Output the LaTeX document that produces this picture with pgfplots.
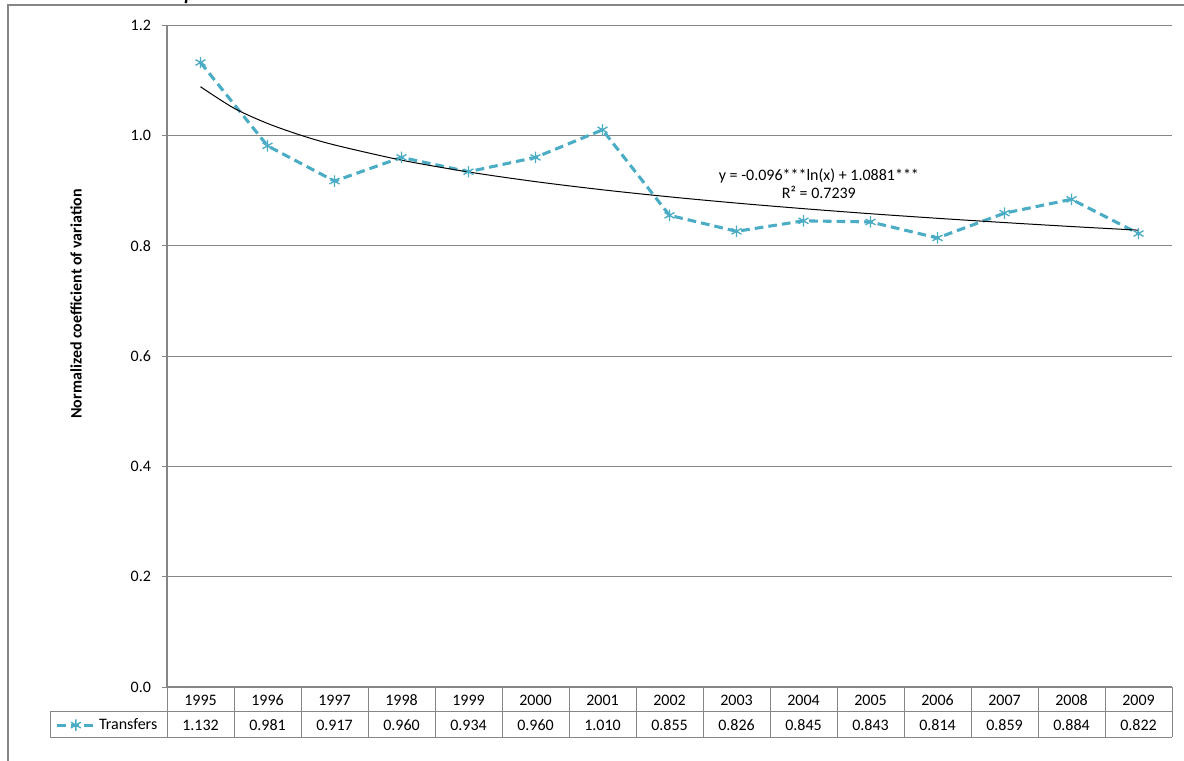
\documentclass[border=0pt]{standalone}
\usepackage{fontspec}
\setmainfont{Carlito}
\usepackage{pgfplots}
\pgfplotsset{compat=1.18}
\definecolor{aqua}{HTML}{4BACC6}
\definecolor{xlgray}{HTML}{868686}
\begin{document}
\begin{tikzpicture}
\begin{scope}[x=0.75pt,y=-0.75pt]
\useasboundingbox (0,0) rectangle (1184,760);
% outer chart border
\draw[xlgray,line width=1.2pt] (8,800) -- (8,5) -- (1200,5);
\node[anchor=base,font=\bfseries\itshape\fontsize{15}{15}\selectfont,inner sep=0pt] at (190,0) {p};
\end{scope}
\begin{axis}[
  at={(125.25pt,-515.25pt)}, anchor=south west,
  scale only axis, width=753.75pt, height=496.5pt,
  xmin=0.5, xmax=15.5, ymin=0, ymax=1.2,
  axis x line=bottom, axis y line=left,
  axis line style={-, xlgray, line width=1.5pt},
  ytick={0,0.2,0.4,0.6,0.8,1.0,1.2},
  yticklabels={0.0,0.2,0.4,0.6,0.8,1.0,1.2},
  ymajorgrids, grid style={xlgray, line width=0.75pt},
  tick align=outside, major tick length=3.5pt,
  ytick style={xlgray, line width=0.75pt},
  xtick={1,...,15},
  xtick style={draw=none},
  xticklabels={{\strut1995\\\strut1.132},{\strut1996\\\strut0.981},{\strut1997\\\strut0.917},{\strut1998\\\strut0.960},{\strut1999\\\strut0.934},{\strut2000\\\strut0.960},{\strut2001\\\strut1.010},{\strut2002\\\strut0.855},{\strut2003\\\strut0.826},{\strut2004\\\strut0.845},{\strut2005\\\strut0.843},{\strut2006\\\strut0.814},{\strut2007\\\strut0.859},{\strut2008\\\strut0.884},{\strut2009\\\strut0.822}},
  xticklabel style={align=center, anchor=north, inner sep=0pt, font=\fontsize{12}{18.75}\selectfont, yshift=2.75pt},
  yticklabel style={font=\fontsize{12}{14}\selectfont, xshift=-5pt},
  /pgf/number format/assume math mode=true,
  clip=false,
  legend style={at={(-0.1114,-0.0575)}, anchor=west, draw=none, fill=none, inner sep=0pt,
    font=\fontsize{12}{14}\selectfont, nodes={inner sep=2pt}},
  legend image code/.code={\draw[mark repeat=2,mark phase=2] plot coordinates {(0pt,0pt) (14.25pt,0pt) (28.5pt,0pt)};},
]
\addplot[aqua, line width=2.3pt, dash pattern=on 6.5pt off 3.8pt,
  mark=asterisk, mark size=4.3pt, mark options={solid, line width=1pt}]
  coordinates {(1,1.132) (2,0.981) (3,0.917) (4,0.960) (5,0.934) (6,0.960) (7,1.010) (8,0.855) (9,0.826) (10,0.845) (11,0.843) (12,0.814) (13,0.859) (14,0.884) (15,0.822)};
\addlegendentry{Transfers}
\addplot[black, line width=0.75pt, smooth, forget plot]
  coordinates {(1,1.0881) (1.5,1.0492) (2,1.0216) (2.5,1.0001) (3,0.9826) (4,0.9550) (5,0.9336) (6,0.9161) (7,0.9013) (8,0.8885) (9,0.8772) (10,0.8671) (11,0.8579) (12,0.8496) (13,0.8419) (14,0.8347) (15,0.8281)};
\node[align=center, font=\fontsize{12}{13.5}\selectfont] at (axis cs:10.23,0.912) {y = -0.096***ln(x) + 1.0881***\\R² = 0.7239};
\end{axis}
\begin{scope}[x=0.75pt,y=-0.75pt]
% data table grid
\foreach \i in {0,...,15} \draw[xlgray,line width=0.75pt] (167+67*\i,687) -- (167+67*\i,737);
\draw[xlgray,line width=0.75pt] (50,711) -- (1172,711);
\draw[xlgray,line width=0.75pt] (50,737) -- (1172,737);
\draw[xlgray,line width=0.75pt] (50,711) -- (50,737);
\node[rotate=90,font=\bfseries\fontsize{12}{14}\selectfont] at (76,304) {Normalized coefficient of variation};
\end{scope}
\end{tikzpicture}
\end{document}
